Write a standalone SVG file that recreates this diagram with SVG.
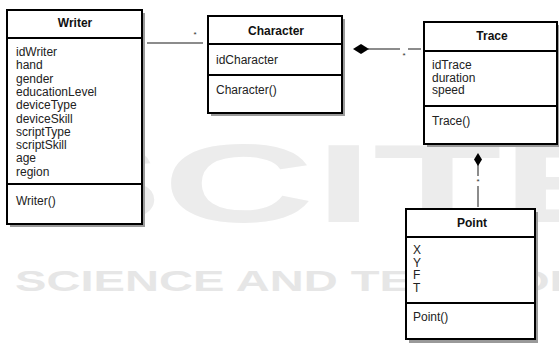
<svg xmlns="http://www.w3.org/2000/svg" width="559" height="343" viewBox="0 0 559 343">
<style>
.box{fill:#fff;stroke:#000;stroke-width:2}
.sh{fill:#9a9a9a}
.div{stroke:#000;stroke-width:2}
.t{font-family:"Liberation Sans",Arial,sans-serif;font-size:12px;fill:#222}
.h{font-family:"Liberation Sans",Arial,sans-serif;font-size:12px;font-weight:bold;fill:#111;text-anchor:middle}
.lab{font-family:"Liberation Sans",Arial,sans-serif;font-size:8px;fill:#333;text-anchor:middle}
.ln{stroke:#666;stroke-width:1.5;fill:none}
.wm{font-family:"Liberation Sans",Arial,sans-serif;font-weight:bold;fill:#ececec}
</style>
<rect width="559" height="343" fill="#fff"/>
<g id="watermark">
<text class="wm" x="22" y="222" font-size="112" textLength="620" lengthAdjust="spacingAndGlyphs">SCITE</text>
<text class="wm" x="15" y="291" font-size="30" textLength="668" lengthAdjust="spacingAndGlyphs" style="fill:#e6e6e6">SCIENCE AND TECHNOLOGY</text>
</g>
<g id="connectors">
<line class="ln" x1="147" y1="43" x2="203" y2="43"/>
<text class="lab" x="195" y="37">*</text>
<line class="ln" x1="368" y1="49" x2="400" y2="49"/>
<polygon points="353,49 361,44 369,49 361,54" fill="#000"/>
<text class="lab" x="404" y="58">*</text>
<line class="ln" x1="408" y1="49" x2="421" y2="49"/>
<line class="ln" x1="478" y1="164" x2="478" y2="176"/>
<polygon points="478,153 482,159.5 478,166 474,159.5" fill="#000"/>
<text class="lab" x="478" y="184">*</text>
<line class="ln" x1="478" y1="186" x2="478" y2="207"/>
</g>
<g id="writer">
<rect class="sh" x="10" y="13" width="135" height="214"/>
<rect class="box" x="7" y="10" width="135" height="214"/>
<line class="div" x1="7" y1="38" x2="142" y2="38"/>
<line class="div" x1="7" y1="184" x2="142" y2="184"/>
<text class="h" x="75" y="27">Writer</text>
<text class="t" x="16" y="56">idWriter</text>
<text class="t" x="16" y="69.3">hand</text>
<text class="t" x="16" y="82.6">gender</text>
<text class="t" x="16" y="95.9">educationLevel</text>
<text class="t" x="16" y="109.2">deviceType</text>
<text class="t" x="16" y="122.5">deviceSkill</text>
<text class="t" x="16" y="135.8">scriptType</text>
<text class="t" x="16" y="149.1">scriptSkill</text>
<text class="t" x="16" y="162.4">age</text>
<text class="t" x="16" y="175.7">region</text>
<text class="t" x="16" y="205">Writer()</text>
</g>
<g id="character">
<rect class="sh" x="211" y="19" width="134" height="97"/>
<rect class="box" x="208" y="16" width="134" height="97"/>
<line class="div" x1="208" y1="44" x2="342" y2="44"/>
<line class="div" x1="208" y1="75" x2="342" y2="75"/>
<text class="h" x="276" y="35">Character</text>
<text class="t" x="216" y="64">idCharacter</text>
<text class="t" x="216" y="94">Character()</text>
</g>
<g id="trace">
<rect class="sh" x="427" y="25" width="134" height="122"/>
<rect class="box" x="424" y="22" width="133" height="122"/>
<line class="div" x1="424" y1="51" x2="557" y2="51"/>
<line class="div" x1="424" y1="106" x2="557" y2="106"/>
<text class="h" x="492" y="40">Trace</text>
<text class="t" x="432" y="69">idTrace</text>
<text class="t" x="432" y="81.5">duration</text>
<text class="t" x="432" y="94">speed</text>
<text class="t" x="432" y="125">Trace()</text>
</g>
<g id="point">
<rect class="sh" x="409" y="212" width="129" height="131"/>
<rect class="box" x="406" y="209" width="129" height="130"/>
<line class="div" x1="406" y1="237" x2="535" y2="237"/>
<line class="div" x1="406" y1="303" x2="535" y2="303"/>
<text class="h" x="472" y="227">Point</text>
<text class="t" x="413" y="254">X</text>
<text class="t" x="413" y="266.5">Y</text>
<text class="t" x="413" y="279">F</text>
<text class="t" x="413" y="291.5">T</text>
<text class="t" x="413" y="321">Point()</text>
</g>
</svg>
